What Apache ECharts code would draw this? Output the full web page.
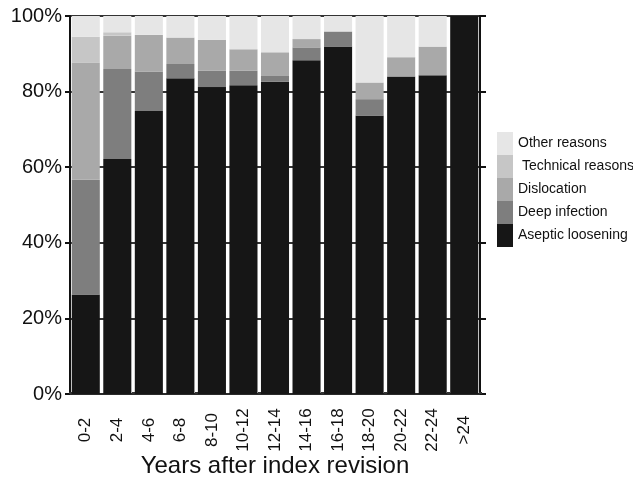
<!DOCTYPE html>
<html>
<head>
<meta charset="utf-8">
<script src="https://cdn.jsdelivr.net/npm/echarts@6/dist/echarts.min.js"></script>
<style>
  html, body { margin: 0; padding: 0; background: #fff; }
  #chart { width: 633px; height: 483px; }
</style>
</head>
<body>
<div id="chart"></div>
<script>
// percent of revisions per interval
const categories = ['0-2', '2-4', '4-6', '6-8', '8-10', '10-12', '12-14', '14-16', '16-18', '18-20', '20-22', '22-24', '>24']
const aseptic = [26.3, 62.2, 74.9, 83.5, 81.2, 81.7, 82.6, 88.3, 91.9, 73.7, 84.0, 84.3, 100]
const deepInfection = [30.4, 23.8, 10.4, 3.8, 4.3, 3.8, 1.7, 3.4, 4.0, 4.3, 0, 0, 0]
const dislocation = [30.9, 8.8, 9.7, 7.0, 8.2, 5.7, 6.1, 2.2, 0, 4.4, 5.1, 7.6, 0]
const technical = [6.9, 0.9, 0, 0, 0, 0, 0, 0, 0, 0, 0, 0, 0]
const other = [5.5, 4.3, 5.0, 5.7, 6.3, 8.8, 9.6, 6.1, 4.1, 17.6, 10.9, 8.1, 0]
const yTicks = [0, 20, 40, 60, 80, 100]

const font = 'Liberation Sans, Arial, sans-serif'

const chart = echarts.init(document.getElementById('chart'))

function bar(name, data, color) {
  return {
    name: name,
    type: 'bar',
    stack: 'total',
    barCategoryGap: '11%',
    data: data,
    itemStyle: { color: color },
    emphasis: { disabled: true }
  }
}

chart.setOption({
  animation: false,
  grid: { left: 70, right: 153, top: 16, bottom: 89, containLabel: false, outerBoundsMode: 'none' },
  legend: {
    orient: 'vertical',
    left: 492,
    top: 127,
    itemWidth: 16,
    itemHeight: 23,
    itemGap: 0,
    icon: 'rect',
    data: ['Other reasons', 'Technical reasons', 'Dislocation', 'Deep infection', 'Aseptic loosening'],
    formatter: name => name === 'Technical reasons' ? ' ' + name : name,
    textStyle: { fontFamily: font, fontSize: 14, color: '#111' }
  },
  xAxis: [{
    type: 'category',
    data: categories,
    name: 'Years after index revision',
    nameLocation: 'middle',
    nameGap: 60,
    nameMoveOverlap: false,
    nameTextStyle: { fontFamily: font, fontSize: 24, color: '#111' },
    axisLine: { lineStyle: { color: '#111', width: 2 } },
    axisTick: { show: false },
    axisLabel: { rotate: 90, align: 'center', margin: 36, fontFamily: font, fontSize: 17, color: '#111' }
  }, {
    type: 'category',
    position: 'top',
    data: categories,
    axisLine: { lineStyle: { color: '#333', width: 1.5 } },
    axisTick: { show: true, length: 2, lineStyle: { color: '#333', width: 3 } },
    axisLabel: { show: false }
  }],
  yAxis: [{
    type: 'value',
    min: yTicks[0],
    max: yTicks[yTicks.length - 1],
    interval: 20,
    axisLine: { show: true, lineStyle: { color: '#111', width: 2 } },
    axisTick: { show: true, length: 5, lineStyle: { color: '#111', width: 2 } },
    axisLabel: { formatter: '{value}%', margin: 8, fontFamily: font, fontSize: 20, color: '#111' },
    splitLine: { show: true, lineStyle: { color: '#333', width: 2 } }
  }, {
    type: 'value',
    position: 'right',
    min: yTicks[0],
    max: yTicks[yTicks.length - 1],
    interval: 20,
    axisLine: { show: true, lineStyle: { color: '#111', width: 2 } },
    axisTick: { show: true, length: 6, lineStyle: { color: '#111', width: 2 } },
    axisLabel: { show: false },
    splitLine: { show: false }
  }],
  series: [
    bar('Aseptic loosening', aseptic, '#161616'),
    bar('Deep infection', deepInfection, '#7e7e7e'),
    bar('Dislocation', dislocation, '#a9a9a9'),
    bar('Technical reasons', technical, '#c6c6c6'),
    bar('Other reasons', other, '#e6e6e6')
  ]
})
</script>
</body>
</html>
